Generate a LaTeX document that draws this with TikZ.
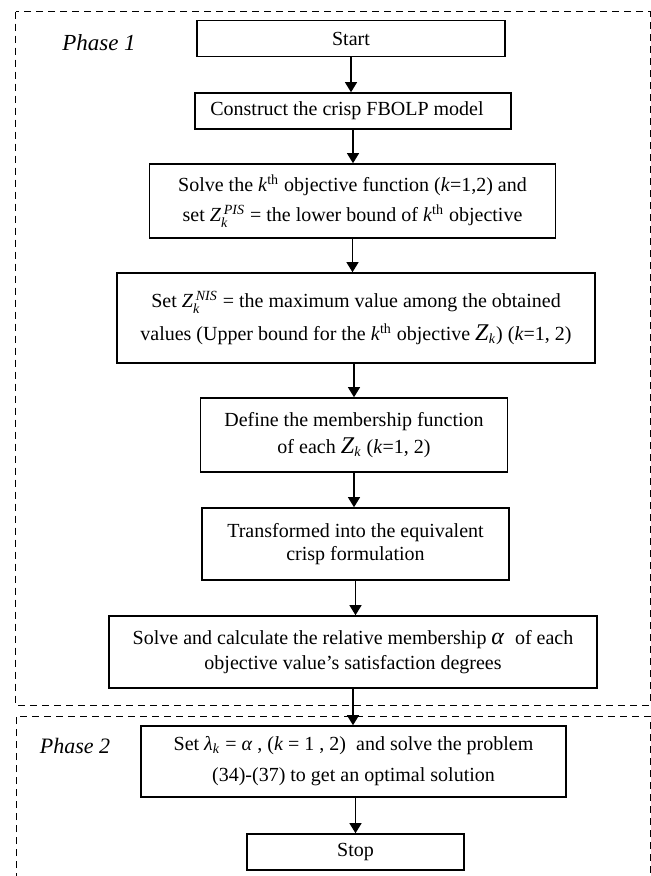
\documentclass[tikz,border=0pt]{standalone}
\usepackage{fontspec}
\setmainfont{Liberation Serif}
\usetikzlibrary{arrows.meta}

\newcommand{\kth}{\textit{k}\textsuperscript{th}}
\newcommand{\tinyit}[1]{\mbox{\fontsize{7}{8}\selectfont\textit{#1}}}
\newcommand{\Zks}[1]{\textit{Z}$_{\tinyit{k}}^{\,\tinyit{#1}}$}

\begin{document}
\begin{tikzpicture}[x=0.5pt, y=-0.5pt, >={Triangle[length=5pt,width=6pt]},
    stepbox/.style={draw, line width=0.8pt, align=center, inner sep=0pt},
    phaseframe/.style={line width=0.5pt, dash pattern=on 3.5pt off 2.5pt},
    phaselabel/.style={font=\itshape\fontsize{11.5}{13}\selectfont}]
    \useasboundingbox (0,0) rectangle (651,876);

    % Phase frames
    \draw[phaseframe] (15.5,11.7) rectangle (650,705);
    \draw[phaseframe] (16,880) -- (16,716) -- (650,716) -- (650,880);
    \node[phaselabel] (ph1) at (99,43) {Phase 1};
    \node[phaselabel, font=\itshape\fontsize{11}{13}\selectfont] (ph2) at (75,746) {Phase 2};

    % Steps
    \node[stepbox, minimum width=154pt, minimum height=18pt] (start) at (351,38.7) {Start};
    \node[stepbox, minimum width=158pt, minimum height=18pt] (crisp) at (353,111) {Construct the crisp FBOLP model\hspace{6pt}};
    \node[stepbox, minimum width=203pt, minimum height=37pt, font=\fontsize{10}{15}\selectfont] (pis) at (352.5,201)
        {Solve the \kth\ objective function (\textit{k}=1,2) and\\ set \Zks{PIS} = the lower bound of \kth\ objective};
    \node[stepbox, minimum width=239pt, minimum height=45pt, font=\fontsize{10}{16.5}\selectfont] (nis) at (356,318)
        {Set \Zks{NIS} = the maximum value among the obtained\\ values (Upper bound for the \kth\ objective {\large\textit{Z}}\textsubscript{\textit{k}}) (\textit{k}=1, 2)};
    \node[stepbox, minimum width=153.5pt, minimum height=37pt, font=\fontsize{10}{13.5}\selectfont] (member) at (354,435)
        {Define the membership function\\ of each {\large\textit{Z}}\textsubscript{\textit{k}} (\textit{k}=1, 2)};
    \node[stepbox, minimum width=153.5pt, minimum height=36pt, font=\fontsize{10}{11.5}\selectfont] (equiv) at (355.5,544)
        {Transformed into the equivalent\\ crisp formulation};
    \node[stepbox, minimum width=244pt, minimum height=36pt, font=\fontsize{10}{12.5}\selectfont] (alpha) at (353,652)
        {Solve and calculate the relative membership {\large\textit{α}}\; of each\\ objective value’s satisfaction degrees};
    \node[stepbox, minimum width=212.5pt, minimum height=35.5pt, font=\fontsize{10}{15.5}\selectfont] (lambda) at (353.5,761.5)
        {Set \textit{λ}\textsubscript{\textit{k}} = \textit{α} , (\textit{k} = 1 , 2)\enspace and solve the problem\\ (34)-(37) to get an optimal solution};
    \node[stepbox, minimum width=108.5pt, minimum height=18pt] (stop) at (355.5,852) {Stop};

    % Arrows
    \draw[->, line width=0.6pt] (start.south) -- (start.south |- crisp.north);
    \draw[->, line width=0.6pt] (crisp.south) -- (crisp.south |- pis.north);
    \draw[->, line width=0.6pt] (pis.south) -- (pis.south |- nis.north);
    \draw[->, line width=0.6pt] (member.north |- nis.south) -- (member.north);
    \draw[->, line width=0.6pt] (member.south) -- (member.south |- equiv.north);
    \draw[->, line width=0.6pt] (equiv.south) -- (equiv.south |- alpha.north);
    \draw[->, line width=0.6pt] (alpha.south) -- (alpha.south |- lambda.north);
    \draw[->, line width=0.6pt] (stop.north |- lambda.south) -- (stop.north);
\end{tikzpicture}
\end{document}
